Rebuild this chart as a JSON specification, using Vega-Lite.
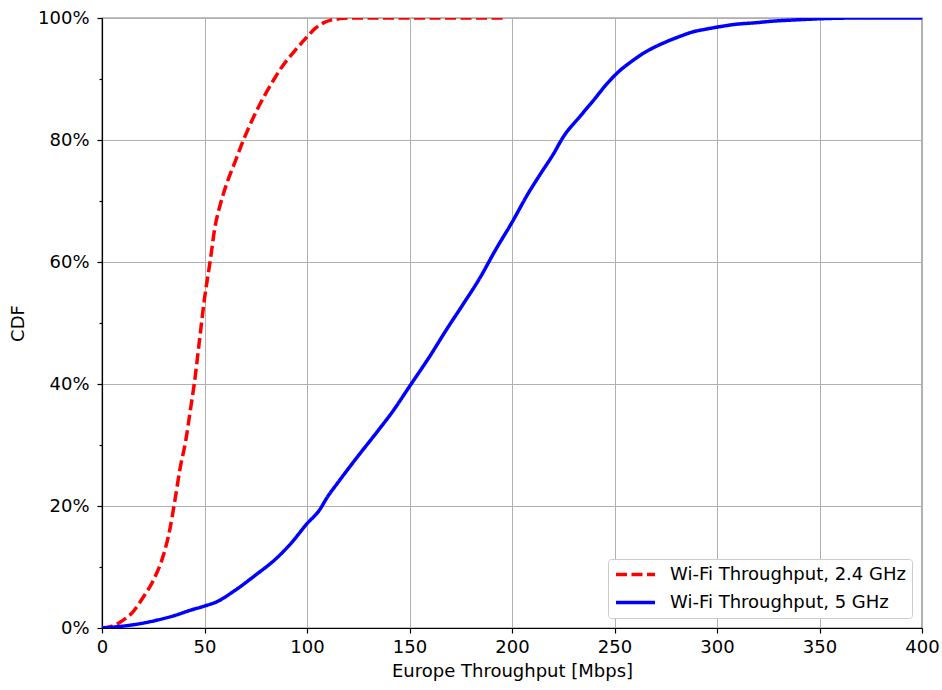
{
  "$schema": "https://vega.github.io/schema/vega-lite/v6.json",
  "width": 820,
  "height": 610,
  "autosize": {"type": "none"},
  "padding": {"left": 102, "top": 18, "right": 20, "bottom": 62},
  "background": "white",
  "config": {
    "view": {"stroke": "black", "strokeWidth": 1.2},
    "font": "DejaVu Sans",
    "axis": {
      "labelFont": "DejaVu Sans", "labelFontSize": 18, "labelColor": "black",
      "titleFont": "DejaVu Sans", "titleFontSize": 18, "titleFontWeight": "normal", "titleColor": "black",
      "domainColor": "black", "domainWidth": 1.2, "tickColor": "black", "tickWidth": 1.2, "tickSize": 5,
      "gridColor": "#b0b0b0", "gridWidth": 1
    },
    "legend": {
      "orient": "bottom-right", "offset": 10, "title": null,
      "fillColor": "white", "strokeColor": "#cccccc", "cornerRadius": 3, "padding": 6,
      "labelFont": "DejaVu Sans", "labelFontSize": 18, "labelColor": "black", "labelOffset": 37,
      "symbolType": "M-1,0H4.2", "symbolStrokeWidth": 3.5, "symbolSize": 225, "rowPadding": 9,
      "labelLimit": 400
    }
  },
  "data": {"values": [
    {"series": "Wi-Fi Throughput, 2.4 GHz", "x": 0, "y": 0},
    {"series": "Wi-Fi Throughput, 2.4 GHz", "x": 5, "y": 0.003},
    {"series": "Wi-Fi Throughput, 2.4 GHz", "x": 10, "y": 0.012},
    {"series": "Wi-Fi Throughput, 2.4 GHz", "x": 15, "y": 0.026},
    {"series": "Wi-Fi Throughput, 2.4 GHz", "x": 20, "y": 0.05},
    {"series": "Wi-Fi Throughput, 2.4 GHz", "x": 25, "y": 0.078},
    {"series": "Wi-Fi Throughput, 2.4 GHz", "x": 30, "y": 0.12},
    {"series": "Wi-Fi Throughput, 2.4 GHz", "x": 33, "y": 0.16},
    {"series": "Wi-Fi Throughput, 2.4 GHz", "x": 35.6, "y": 0.21},
    {"series": "Wi-Fi Throughput, 2.4 GHz", "x": 38, "y": 0.26},
    {"series": "Wi-Fi Throughput, 2.4 GHz", "x": 41, "y": 0.31},
    {"series": "Wi-Fi Throughput, 2.4 GHz", "x": 43, "y": 0.355},
    {"series": "Wi-Fi Throughput, 2.4 GHz", "x": 45, "y": 0.4},
    {"series": "Wi-Fi Throughput, 2.4 GHz", "x": 47.5, "y": 0.47},
    {"series": "Wi-Fi Throughput, 2.4 GHz", "x": 50, "y": 0.54},
    {"series": "Wi-Fi Throughput, 2.4 GHz", "x": 52.7, "y": 0.6},
    {"series": "Wi-Fi Throughput, 2.4 GHz", "x": 55, "y": 0.655},
    {"series": "Wi-Fi Throughput, 2.4 GHz", "x": 58, "y": 0.698},
    {"series": "Wi-Fi Throughput, 2.4 GHz", "x": 61, "y": 0.73},
    {"series": "Wi-Fi Throughput, 2.4 GHz", "x": 65, "y": 0.765},
    {"series": "Wi-Fi Throughput, 2.4 GHz", "x": 69, "y": 0.8},
    {"series": "Wi-Fi Throughput, 2.4 GHz", "x": 74, "y": 0.838},
    {"series": "Wi-Fi Throughput, 2.4 GHz", "x": 79, "y": 0.871},
    {"series": "Wi-Fi Throughput, 2.4 GHz", "x": 84, "y": 0.9},
    {"series": "Wi-Fi Throughput, 2.4 GHz", "x": 88, "y": 0.921},
    {"series": "Wi-Fi Throughput, 2.4 GHz", "x": 94, "y": 0.946},
    {"series": "Wi-Fi Throughput, 2.4 GHz", "x": 100, "y": 0.969},
    {"series": "Wi-Fi Throughput, 2.4 GHz", "x": 104, "y": 0.983},
    {"series": "Wi-Fi Throughput, 2.4 GHz", "x": 108, "y": 0.992},
    {"series": "Wi-Fi Throughput, 2.4 GHz", "x": 112, "y": 0.997},
    {"series": "Wi-Fi Throughput, 2.4 GHz", "x": 116, "y": 0.999},
    {"series": "Wi-Fi Throughput, 2.4 GHz", "x": 122, "y": 1.0},
    {"series": "Wi-Fi Throughput, 2.4 GHz", "x": 197, "y": 1.0},
    {"series": "Wi-Fi Throughput, 5 GHz", "x": 0, "y": 0},
    {"series": "Wi-Fi Throughput, 5 GHz", "x": 10, "y": 0.003},
    {"series": "Wi-Fi Throughput, 5 GHz", "x": 20, "y": 0.008},
    {"series": "Wi-Fi Throughput, 5 GHz", "x": 27, "y": 0.013},
    {"series": "Wi-Fi Throughput, 5 GHz", "x": 35, "y": 0.02},
    {"series": "Wi-Fi Throughput, 5 GHz", "x": 43, "y": 0.029},
    {"series": "Wi-Fi Throughput, 5 GHz", "x": 50, "y": 0.036},
    {"series": "Wi-Fi Throughput, 5 GHz", "x": 56, "y": 0.043},
    {"series": "Wi-Fi Throughput, 5 GHz", "x": 65, "y": 0.062},
    {"series": "Wi-Fi Throughput, 5 GHz", "x": 75, "y": 0.087},
    {"series": "Wi-Fi Throughput, 5 GHz", "x": 85, "y": 0.114},
    {"series": "Wi-Fi Throughput, 5 GHz", "x": 92, "y": 0.138},
    {"series": "Wi-Fi Throughput, 5 GHz", "x": 100, "y": 0.171},
    {"series": "Wi-Fi Throughput, 5 GHz", "x": 106, "y": 0.193},
    {"series": "Wi-Fi Throughput, 5 GHz", "x": 110, "y": 0.215},
    {"series": "Wi-Fi Throughput, 5 GHz", "x": 115, "y": 0.238},
    {"series": "Wi-Fi Throughput, 5 GHz", "x": 124, "y": 0.278},
    {"series": "Wi-Fi Throughput, 5 GHz", "x": 135, "y": 0.325},
    {"series": "Wi-Fi Throughput, 5 GHz", "x": 142, "y": 0.356},
    {"series": "Wi-Fi Throughput, 5 GHz", "x": 150, "y": 0.396},
    {"series": "Wi-Fi Throughput, 5 GHz", "x": 160, "y": 0.446},
    {"series": "Wi-Fi Throughput, 5 GHz", "x": 168, "y": 0.489},
    {"series": "Wi-Fi Throughput, 5 GHz", "x": 176, "y": 0.53},
    {"series": "Wi-Fi Throughput, 5 GHz", "x": 184, "y": 0.572},
    {"series": "Wi-Fi Throughput, 5 GHz", "x": 192, "y": 0.62},
    {"series": "Wi-Fi Throughput, 5 GHz", "x": 200, "y": 0.665},
    {"series": "Wi-Fi Throughput, 5 GHz", "x": 208, "y": 0.713},
    {"series": "Wi-Fi Throughput, 5 GHz", "x": 214, "y": 0.745},
    {"series": "Wi-Fi Throughput, 5 GHz", "x": 220, "y": 0.776},
    {"series": "Wi-Fi Throughput, 5 GHz", "x": 225, "y": 0.805},
    {"series": "Wi-Fi Throughput, 5 GHz", "x": 233, "y": 0.838},
    {"series": "Wi-Fi Throughput, 5 GHz", "x": 240, "y": 0.866},
    {"series": "Wi-Fi Throughput, 5 GHz", "x": 245, "y": 0.887},
    {"series": "Wi-Fi Throughput, 5 GHz", "x": 253, "y": 0.915},
    {"series": "Wi-Fi Throughput, 5 GHz", "x": 258, "y": 0.928},
    {"series": "Wi-Fi Throughput, 5 GHz", "x": 264, "y": 0.942},
    {"series": "Wi-Fi Throughput, 5 GHz", "x": 270, "y": 0.953},
    {"series": "Wi-Fi Throughput, 5 GHz", "x": 276, "y": 0.962},
    {"series": "Wi-Fi Throughput, 5 GHz", "x": 282, "y": 0.97},
    {"series": "Wi-Fi Throughput, 5 GHz", "x": 288, "y": 0.977},
    {"series": "Wi-Fi Throughput, 5 GHz", "x": 295, "y": 0.982},
    {"series": "Wi-Fi Throughput, 5 GHz", "x": 300, "y": 0.985},
    {"series": "Wi-Fi Throughput, 5 GHz", "x": 310, "y": 0.99},
    {"series": "Wi-Fi Throughput, 5 GHz", "x": 318, "y": 0.992},
    {"series": "Wi-Fi Throughput, 5 GHz", "x": 328, "y": 0.995},
    {"series": "Wi-Fi Throughput, 5 GHz", "x": 339, "y": 0.997},
    {"series": "Wi-Fi Throughput, 5 GHz", "x": 355, "y": 0.9993},
    {"series": "Wi-Fi Throughput, 5 GHz", "x": 370, "y": 1.0},
    {"series": "Wi-Fi Throughput, 5 GHz", "x": 400, "y": 1.0}
  ]},
  "mark": {"type": "line", "strokeWidth": 3.5, "clip": true, "interpolate": "monotone"},
  "encoding": {
    "x": {
      "field": "x", "type": "quantitative",
      "scale": {"domain": [0, 400], "nice": false, "zero": false},
      "axis": {"values": [0, 50, 100, 150, 200, 250, 300, 350, 400], "title": "Europe Throughput [Mbps]", "labelPadding": 5, "titlePadding": 6, "labelFlush": false}
    },
    "y": {
      "field": "y", "type": "quantitative",
      "scale": {"domain": [0, 1], "nice": false},
      "axis": {
        "values": [0, 0.1, 0.2, 0.3, 0.4, 0.5, 0.6, 0.7, 0.8, 0.9, 1.0],
        "labelExpr": "round(datum.value*10) % 2 == 1 ? '' : format(datum.value, '.0%')",
        "tickSize": {"condition": {"test": "round(datum.value*10) % 2 == 1", "value": 3}, "value": 5},
        "gridOpacity": {"condition": {"test": "round(datum.value*10) % 2 == 1", "value": 0}, "value": 1},
        "title": "CDF", "labelPadding": 8, "titlePadding": 10, "labelFlush": false
      }
    },
    "color": {
      "field": "series", "type": "nominal",
      "scale": {"domain": ["Wi-Fi Throughput, 2.4 GHz", "Wi-Fi Throughput, 5 GHz"], "range": ["#ff0000", "#0000ff"]}
    },
    "strokeDash": {
      "field": "series", "type": "nominal",
      "scale": {"domain": ["Wi-Fi Throughput, 2.4 GHz", "Wi-Fi Throughput, 5 GHz"], "range": [[11, 4.5], [1, 0]]}
    }
  }
}
